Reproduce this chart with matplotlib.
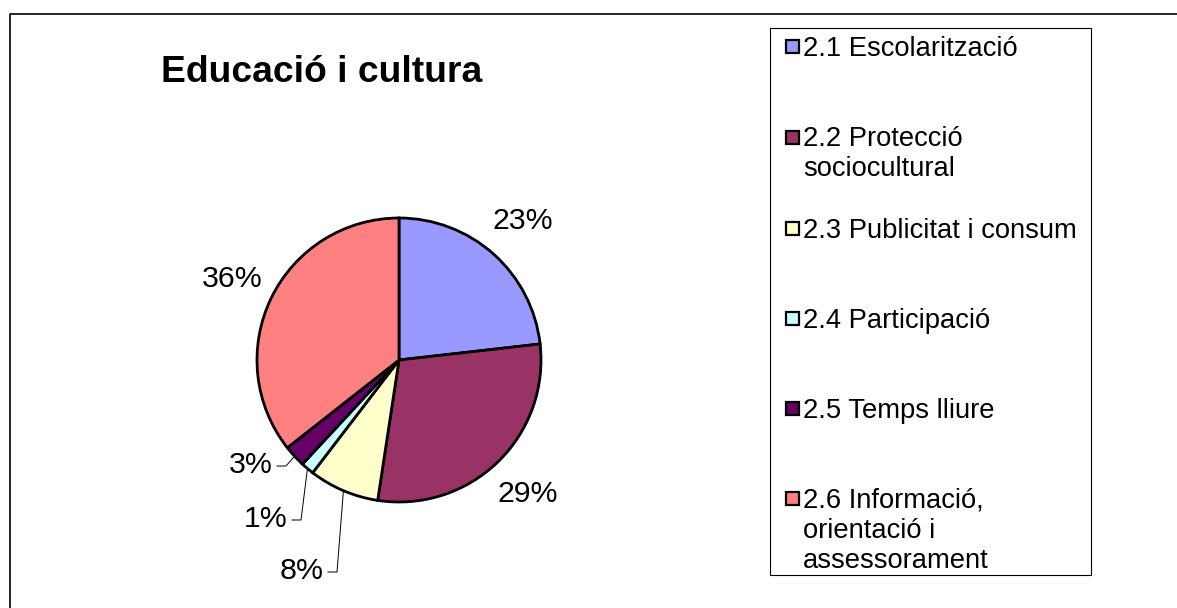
import numpy as np
import matplotlib.pyplot as plt
from matplotlib.patches import Rectangle

plt.rcParams['font.family'] = ['Liberation Sans', 'DejaVu Sans']

# data
categories = ['2.1 Escolarització', '2.2 Protecció\nsociocultural', '2.3 Publicitat i consum',
              '2.4 Participació', '2.5 Temps lliure', '2.6 Informació,\norientació i\nassessorament']
shares = [23.2, 29.2, 8.0, 1.5, 2.5, 35.6]
pct_labels = ['23%', '29%', '8%', '1%', '3%', '36%']
colors = ['#9999FF', '#993366', '#FFFFCC', '#CCFFFF', '#660066', '#FF8080']

W, H = 1177, 608
fig = plt.figure(figsize=(W / 100, H / 100), dpi=100)
ax = fig.add_axes([0, 0, 1, 1])

# pie (pixel units, y up)
cx, cy, r = 399, H - 360, 142
wedges, _ = ax.pie(shares, colors=colors, startangle=90, counterclock=False,
                   center=(cx, cy), radius=r,
                   wedgeprops=dict(edgecolor='black', linewidth=2.0))
ax.set_xlim(0, W)
ax.set_ylim(0, H)
ax.set_aspect('auto')
ax.axis('off')

# small slices get labels pulled out with leader lines
small_pos = {2: (302, H - 571), 3: (266, H - 519), 4: (251, H - 465)}

for i, w in enumerate(wedges):
    mid = np.deg2rad((w.theta1 + w.theta2) / 2)
    if i in small_pos:
        tx, ty = small_pos[i]
        ax.text(tx, ty, pct_labels[i], fontsize=21.8, ha='center', va='center')
        ex, ey = cx + r * np.cos(mid), cy + r * np.sin(mid)
        ax.plot([tx + 26, tx + 35, ex], [ty - 1, ty - 1, ey], color='black',
                lw=0.7, clip_on=False)
    else:
        d = 1.31 * r
        ax.text(cx + d * np.cos(mid), cy + d * np.sin(mid), pct_labels[i],
                fontsize=21.8, ha='center', va='center')

# title
ax.text(322, H - 82, 'Educació i cultura', fontsize=26.8, fontweight='bold',
        ha='center', va='baseline')

# outer frame (left and top only)
ax.plot([10, 10, W], [0, H - 14, H - 14], color='black', lw=1.2, clip_on=False)

# legend drawn by hand
ax.add_patch(Rectangle((770, H - 575), 321, 547, fill=False, edgecolor='black', lw=0.8))
rows = [46, 137, 228, 318, 408, 498]
for row, lab, col in zip(rows, categories, colors):
    ax.add_patch(Rectangle((786, H - row - 6.5), 13, 13, facecolor=col,
                           edgecolor='black', lw=1.6))
    for k, line in enumerate(lab.split('\n')):
        ax.text(803, H - (row + 9.5 + 30 * k), line, fontsize=19.7, ha='left', va='baseline')

fig.savefig('out.png', dpi=100)
